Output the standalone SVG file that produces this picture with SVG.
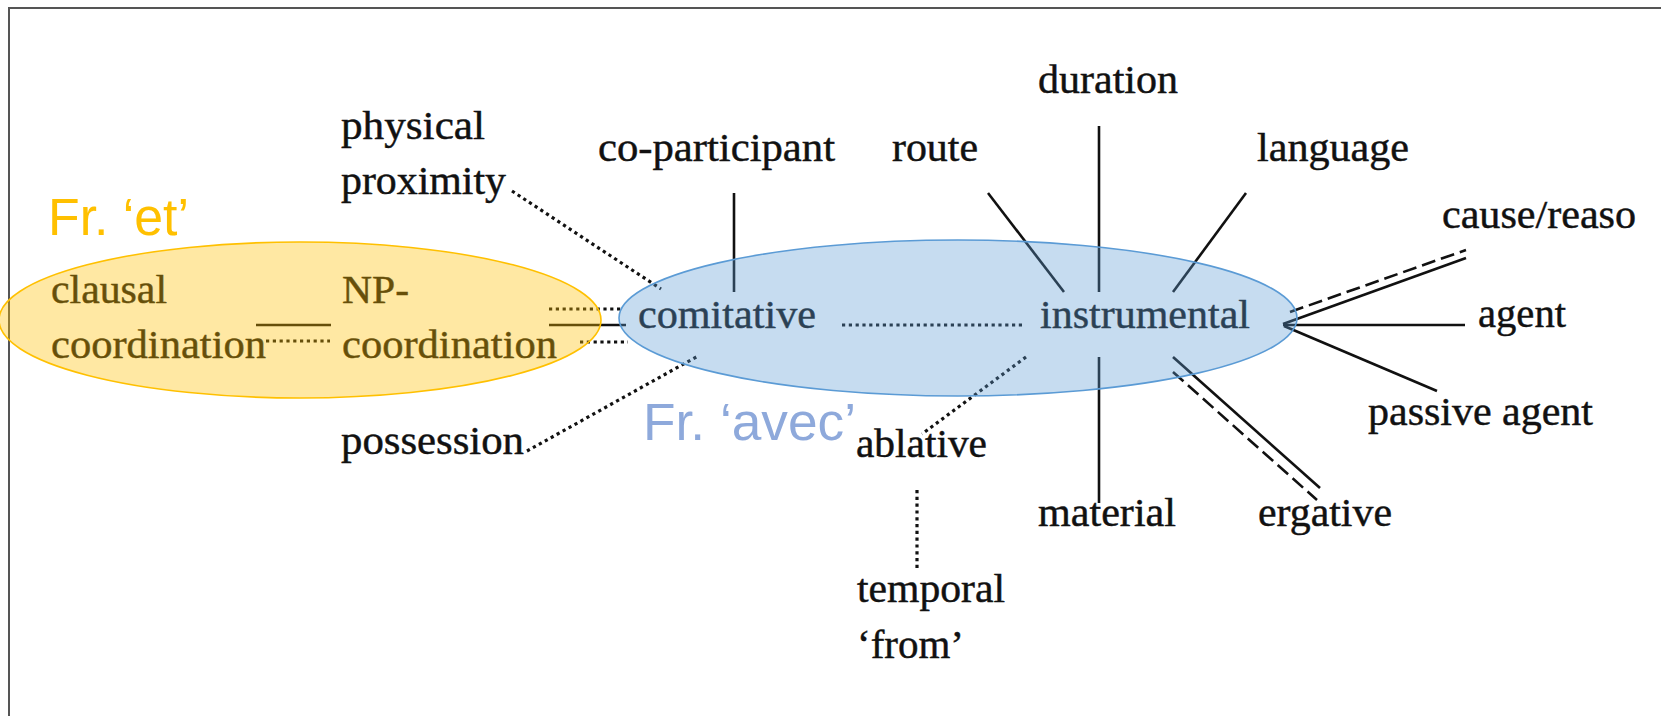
<svg xmlns="http://www.w3.org/2000/svg" width="1661" height="716" viewBox="0 0 1661 716">
  <defs>
    <style>
      .lbl { font-family: "Liberation Serif", "Times New Roman", serif; font-size: 40px; fill: #111; stroke: #111; stroke-width: 0.45; }
      .fr { font-family: "Liberation Sans", Arial, sans-serif; font-size: 51px; }
      .solid { stroke: #111; stroke-width: 2.6; fill: none; }
      .dot { stroke: #111; stroke-width: 3.2; fill: none; stroke-dasharray: 3.2 3.6; }
      .dash { stroke: #111; stroke-width: 2.6; fill: none; stroke-dasharray: 14 6; }
      .frame { stroke: #555; stroke-width: 2; fill: none; }
    </style>
  </defs>

  <rect width="1661" height="716" fill="#fff"/>

  <!-- frame: top and left edges -->
  <path class="frame" d="M9 716 V8 H1661"/>

  <!-- connectors -->
  <g id="connectors">
    <!-- clausal coordination — NP-coordination -->
    <line class="solid" x1="256" y1="325" x2="331" y2="325"/>
    <line class="dot" x1="266" y1="341" x2="330" y2="341"/>
    <!-- NP-coordination — comitative -->
    <line class="dot" x1="549" y1="309" x2="621" y2="309"/>
    <line class="solid" x1="549" y1="325" x2="626" y2="325"/>
    <line class="dot" x1="580" y1="342" x2="628" y2="342"/>
    <!-- physical proximity / possession -->
    <line class="dot" x1="512" y1="191" x2="661" y2="289"/>
    <line class="dot" x1="527" y1="451" x2="698" y2="356"/>
    <!-- co-participant -->
    <line class="solid" x1="734" y1="193" x2="734" y2="292"/>
    <!-- comitative ...... instrumental -->
    <line class="dot" x1="842" y1="325" x2="1025" y2="325"/>
    <!-- route, duration, language -->
    <line class="solid" x1="988" y1="193" x2="1064" y2="292"/>
    <line class="solid" x1="1099" y1="126" x2="1099" y2="292"/>
    <line class="solid" x1="1246" y1="193" x2="1173" y2="292"/>
    <!-- ablative, temporal 'from' -->
    <line class="dot" x1="1026" y1="357" x2="922" y2="434"/>
    <line class="dot" x1="917" y1="490" x2="917" y2="571"/>
    <!-- material -->
    <line class="solid" x1="1099" y1="357" x2="1099" y2="503"/>
    <!-- ergative -->
    <line class="solid" x1="1173" y1="357" x2="1320" y2="488"/>
    <line class="dash" x1="1173" y1="372" x2="1317" y2="500"/>
    <!-- cause/reason, agent, passive agent -->
    <line class="dash" x1="1290" y1="312" x2="1466" y2="250"/>
    <line class="solid" x1="1283" y1="324" x2="1466" y2="258"/>
    <line class="solid" x1="1283" y1="325" x2="1465" y2="325"/>
    <line class="solid" x1="1284" y1="326" x2="1437" y2="391"/>
  </g>

  <!-- labels -->
  <g id="n-physical-proximity">
    <text class="lbl" x="341" y="139" textLength="144" lengthAdjust="spacingAndGlyphs">physical</text>
    <text class="lbl" x="341" y="194" textLength="165" lengthAdjust="spacingAndGlyphs">proximity</text>
  </g>
  <g id="n-co-participant"><text class="lbl" x="598" y="161" textLength="237" lengthAdjust="spacingAndGlyphs">co-participant</text></g>
  <g id="n-route"><text class="lbl" x="892" y="161" textLength="86" lengthAdjust="spacingAndGlyphs">route</text></g>
  <g id="n-duration"><text class="lbl" x="1038" y="93" textLength="140" lengthAdjust="spacingAndGlyphs">duration</text></g>
  <g id="n-language"><text class="lbl" x="1257" y="161" textLength="152" lengthAdjust="spacingAndGlyphs">language</text></g>
  <g id="n-cause"><text class="lbl" x="1442" y="228" textLength="194" lengthAdjust="spacingAndGlyphs">cause/reaso</text></g>
  <g id="n-agent"><text class="lbl" x="1478" y="327" textLength="88" lengthAdjust="spacingAndGlyphs">agent</text></g>
  <g id="n-passive-agent"><text class="lbl" x="1368" y="425" textLength="225" lengthAdjust="spacingAndGlyphs">passive agent</text></g>
  <g id="n-ergative"><text class="lbl" x="1258" y="526" textLength="134" lengthAdjust="spacingAndGlyphs">ergative</text></g>
  <g id="n-material"><text class="lbl" x="1038" y="526" textLength="138" lengthAdjust="spacingAndGlyphs">material</text></g>
  <g id="n-ablative"><text class="lbl" x="856" y="457" textLength="131" lengthAdjust="spacingAndGlyphs">ablative</text></g>
  <g id="n-temporal-from">
    <text class="lbl" x="857" y="602" textLength="148" lengthAdjust="spacingAndGlyphs">temporal</text>
    <text class="lbl" x="857" y="658" textLength="107" lengthAdjust="spacingAndGlyphs">‘from’</text>
  </g>
  <g id="n-possession"><text class="lbl" x="341" y="454" textLength="183" lengthAdjust="spacingAndGlyphs">possession</text></g>
  <g id="n-comitative"><text class="lbl" x="638" y="328" textLength="178" lengthAdjust="spacingAndGlyphs">comitative</text></g>
  <g id="n-instrumental"><text class="lbl" x="1040" y="328" textLength="210" lengthAdjust="spacingAndGlyphs">instrumental</text></g>
  <g id="n-clausal-coordination">
    <text class="lbl" x="51" y="303" textLength="116" lengthAdjust="spacingAndGlyphs">clausal</text>
    <text class="lbl" x="51" y="358" textLength="215" lengthAdjust="spacingAndGlyphs">coordination</text>
  </g>
  <g id="n-np-coordination">
    <text class="lbl" x="342" y="303" textLength="67" lengthAdjust="spacingAndGlyphs">NP-</text>
    <text class="lbl" x="342" y="358" textLength="215" lengthAdjust="spacingAndGlyphs">coordination</text>
  </g>

  <!-- translucent groupings laid over the labels -->
  <g id="group-et">
    <ellipse cx="300" cy="320" rx="301" ry="78" fill="#FFC000" fill-opacity="0.36" stroke="#FFC000" stroke-width="1.6"/>
    <text class="fr" x="48" y="235" fill="#FFC000" textLength="141" lengthAdjust="spacingAndGlyphs">Fr. ‘et’</text>
  </g>
  <g id="group-avec">
    <ellipse cx="958" cy="318" rx="339" ry="78" fill="#5B9BD5" fill-opacity="0.35" stroke="#5B9BD5" stroke-width="1.6"/>
    <text class="fr" x="643" y="440" fill="#8EA9DB" textLength="213" lengthAdjust="spacingAndGlyphs">Fr. ‘avec’</text>
  </g>
</svg>
